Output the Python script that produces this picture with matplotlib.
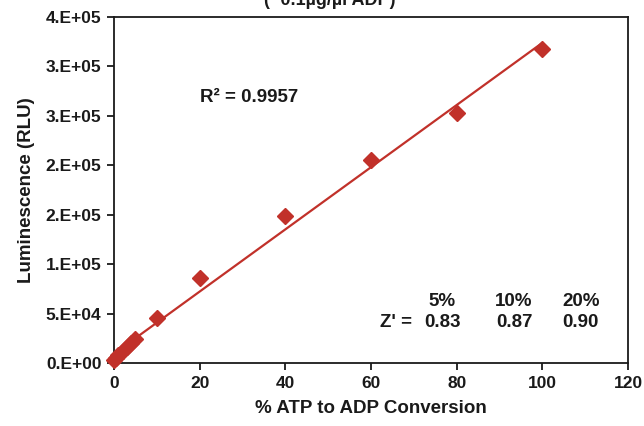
import numpy as np
import matplotlib
matplotlib.use("Agg")
import matplotlib.pyplot as plt
from matplotlib.ticker import FuncFormatter, MultipleLocator
import math

plt.rcParams['font.family'] = ['Liberation Sans', 'DejaVu Sans']
plt.rcParams['font.weight'] = 'bold'

# data
conversion_pct = [0, 0.5, 1, 2, 3, 4, 5, 10, 20, 40, 60, 80, 100]
luminescence = [3000, 5500, 8000, 12500, 16000, 20000, 24500, 45300, 86200, 148400, 205200, 253300, 317500]
r2_text = "R² = 0.9957"
z_headers = ["5%", "10%", "20%"]
z_values = ["0.83", "0.87", "0.90"]
title_text = "(~0.1µg/µl ADP)"

red = '#C1312A'
ink = '#1a1a1a'

fig = plt.figure(figsize=(6.44, 4.26), dpi=100)
ax = fig.add_axes([114/644, 1 - 363/426, (628 - 114)/644, (363 - 17)/426])

x = np.array(conversion_pct, dtype=float)
y = np.array(luminescence, dtype=float)
slope, intercept = np.polyfit(x, y, 1)
xf = np.array([x.min(), x.max()])
ax.plot(xf, slope * xf + intercept, color=red, lw=1.6, zorder=2)
ax.plot(x, y, linestyle='none', marker='D', markersize=8, color=red, zorder=3, clip_on=False)

ax.set_xlim(0, 120)
ax.set_ylim(0, 350000)
ax.xaxis.set_major_locator(MultipleLocator(20))
ax.yaxis.set_major_locator(MultipleLocator(50000))


def excel_fmt(v, pos):
    if v == 0:
        return "0.E+00"
    e = int(math.floor(math.log10(abs(v))))
    m = v / 10**e
    mr = math.floor(m + 0.5 + 1e-9)
    if mr >= 10:
        mr = 1
        e += 1
    return f"{mr}.E+{e:02d}"


ax.yaxis.set_major_formatter(FuncFormatter(excel_fmt))

for s in ax.spines.values():
    s.set_linewidth(1.3)
    s.set_color(ink)
ax.tick_params(axis='both', direction='out', length=5, width=1.3, labelsize=12.5, pad=4, colors=ink)
for lab in ax.get_xticklabels() + ax.get_yticklabels():
    lab.set_fontweight('bold')

ax.set_xlabel("% ATP to ADP Conversion", fontsize=13.5, fontweight='bold', labelpad=7, color=ink)
ax.set_ylabel("Luminescence (RLU)", fontsize=13.5, fontweight='bold', labelpad=8, color=ink)

ax.text(20, 268800, r2_text, fontsize=13.5, fontweight='bold', va='center', ha='left', color=ink)

zx = [76.6, 93.4, 109.0]
for xx, h, v in zip(zx, z_headers, z_values):
    ax.text(xx, 61900, h, fontsize=13.5, fontweight='bold', ha='center', va='center', color=ink)
    ax.text(xx, 40600, v, fontsize=13.5, fontweight='bold', ha='center', va='center', color=ink)
ax.text(69.6, 40600, "Z' =", fontsize=13.5, fontweight='bold', ha='right', va='center', color=ink)

fig.text(330/644, 1 - 9/426, title_text, fontsize=13, fontweight='bold', ha='center', va='bottom', color=ink)

fig.savefig("out.png", dpi=100)
